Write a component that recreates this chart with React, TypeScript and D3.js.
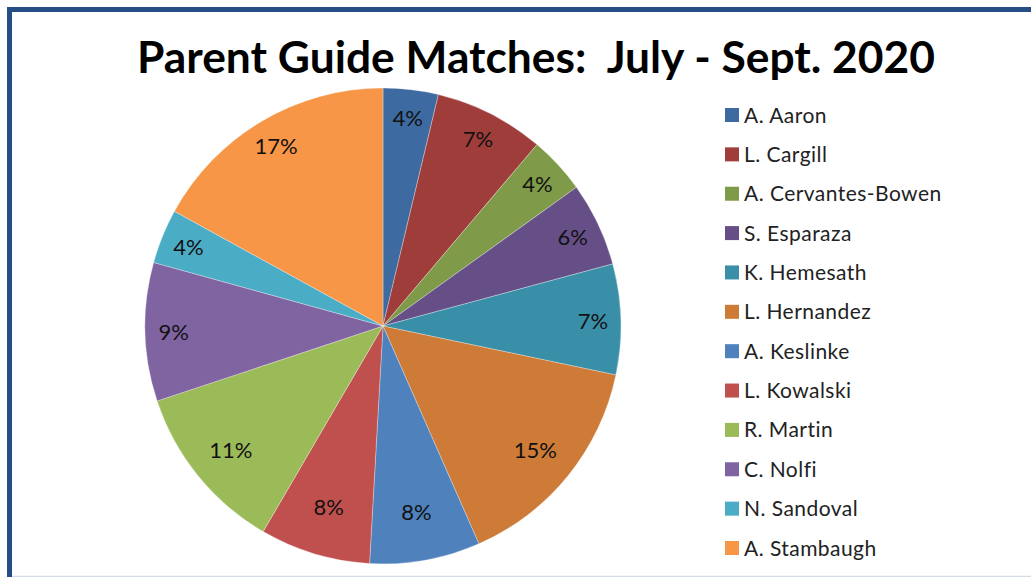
import React from 'react';
import * as d3 from 'd3';

// Guides and their share of matches (slice sizes)
const guides = [
  'A. Aaron',
  'L. Cargill',
  'A. Cervantes-Bowen',
  'S. Esparaza',
  'K. Hemesath',
  'L. Hernandez',
  'A. Keslinke',
  'L. Kowalski',
  'R. Martin',
  'C. Nolfi',
  'N. Sandoval',
  'A. Stambaugh',
];
const shares = [3.74, 7.46, 3.9, 5.7, 7.5, 15.1, 7.5, 7.5, 11.5, 9.4, 3.7, 17.0];
const pctLabels = ['4%', '7%', '4%', '6%', '7%', '15%', '8%', '8%', '11%', '9%', '4%', '17%'];
const colors = [
  '#3D6AA1', '#9E3D3A', '#7F9A48', '#664F87', '#3A8FA8', '#CD7B37',
  '#4F81BD', '#C0504D', '#9BBB59', '#8064A2', '#4BACC6', '#F79646',
];

const W = 1031;
const H = 577;
const cx = 383;
const cy = 326;
const R = 238;
const font = 'Lato, "Open Sans", sans-serif';

const App: React.FC = () => {
  const pie = d3.pie<number>().sort(null).value((d) => d);
  const arcs = pie(shares);
  const arcGen = d3.arc<d3.PieArcDatum<number>>().innerRadius(0).outerRadius(R);
  // labels sit near the rim, a little further in on the lower half like Excel's best fit
  const labelPos = (a: d3.PieArcDatum<number>) => {
    const mid = (a.startAngle + a.endAngle) / 2;
    const lower = Math.max(0, -Math.cos(mid));
    const r = R - 28 - 22 * lower;
    return [Math.sin(mid) * r, -Math.cos(mid) * r];
  };

  const legendY = d3.scaleLinear().domain([0, guides.length - 1]).range([115, 548]);

  return (
    <svg
      width={W}
      height={H}
      viewBox={`0 0 ${W} ${H}`}
      style={{ position: 'absolute', left: 0, top: 0, background: '#fff', fontVariantLigatures: 'none' }}
    >
      <rect x={0} y={0} width={W} height={H} fill="#fff" />
      {/* frame */}
      <line x1={12} x2={W} y1={576.5} y2={576.5} stroke="#D3DAE8" strokeWidth={1.5} />
      <path d={`M9.5,${H} V9.5 H${W}`} fill="none" stroke="#244E84" strokeWidth={5} />

      <text
        x={536}
        y={73}
        textAnchor="middle"
        fontFamily={font}
        fontWeight="bold"
        fontSize={44}
        fill="#000"
        textLength={798}
        lengthAdjust="spacingAndGlyphs"
        style={{ whiteSpace: 'pre' }}
      >
        {'Parent Guide Matches:  July - Sept. 2020'}
      </text>

      <g transform={`translate(${cx},${cy})`}>
        {arcs.map((a, i) => (
          <path
            key={guides[i]}
            d={arcGen(a) || undefined}
            fill={colors[i]}
            stroke="#ffffff"
            strokeOpacity={0.5}
            strokeWidth={0.6}
          />
        ))}
        {arcs.map((a, i) => {
          const [x, y] = labelPos(a);
          return (
            <text
              key={'l' + i}
              x={x}
              y={y}
              textAnchor="middle"
              dominantBaseline="central"
              fontFamily={font}
              fontSize={22}
              fill="#111"
            >
              {pctLabels[i]}
            </text>
          );
        })}
      </g>

      <g>
        {guides.map((g, i) => (
          <g key={g} transform={`translate(725,${legendY(i)})`}>
            <rect x={0} y={-7} width={14} height={14} fill={colors[i]} />
            <text x={19} y={7.5} fontFamily={font} fontSize={21} letterSpacing={0.45} fill="#222">
              {g}
            </text>
          </g>
        ))}
      </g>
    </svg>
  );
};

export default App;
